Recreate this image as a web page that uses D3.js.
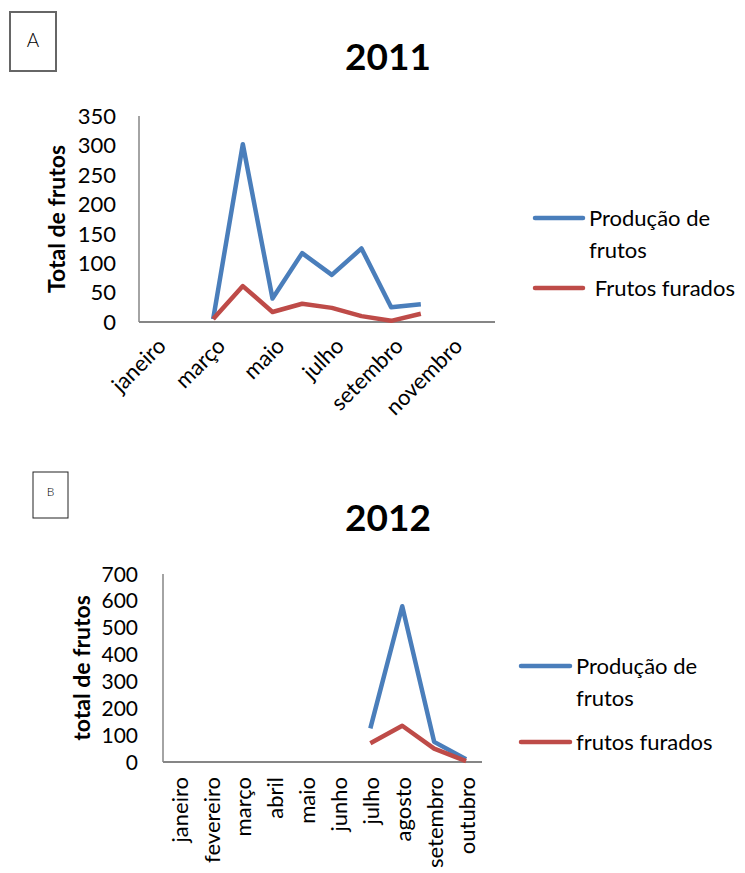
<!DOCTYPE html>
<html><head><meta charset="utf-8">
<script src="https://cdn.jsdelivr.net/npm/d3@7"></script>
<style>body{margin:0;background:#fff}svg{display:block}text{font-family:Lato,"Open Sans",sans-serif;fill:#000}</style>
</head><body>
<script>
const months2011 = ["janeiro","fevereiro","março","abril","maio","junho","julho","agosto","setembro","outubro","novembro","dezembro"];
const tickLabels2011 = ["janeiro","março","maio","julho","setembro","novembro"];
const producao2011 = [null,null,5,302,40,117,80,125,25,30,null,null];
const furados2011 = [null,null,5,61,17,31,24,10,2,14,null,null];
const yTicks2011 = [0,50,100,150,200,250,300,350];

const months2012 = ["janeiro","fevereiro","março","abril","maio","junho","julho","agosto","setembro","outubro"];
const producao2012 = [null,null,null,null,null,null,125,580,75,10];
const furados2012 = [null,null,null,null,null,null,70,135,50,3];
const yTicks2012 = [0,100,200,300,400,500,600,700];

const seriesNames2011 = ["Produção de|frutos"," Frutos furados"];
const seriesNames2012 = ["Produção de|frutos","frutos furados"];
const colors = ["#4A7EBB","#BE4B48"];

const svg = d3.select("body").append("svg").attr("width",745).attr("height",873);

function panel(o){
  const g = svg.append("g");
  const x = d3.scaleBand().domain(o.months).range([o.x0,o.x1]);
  const y = d3.scaleLinear().domain([0,o.ymax]).range([o.y0,o.y1]);
  g.append("line").attr("x1",o.x0).attr("x2",o.x0).attr("y1",o.y0).attr("y2",o.y1).attr("stroke","#868686").attr("stroke-width",1.5);
  g.append("line").attr("x1",o.x0).attr("x2",o.x1).attr("y1",o.y0).attr("y2",o.y0).attr("stroke","#868686").attr("stroke-width",2);
  g.selectAll(".yt").data(o.yTicks).enter().append("text")
    .attr("x",o.ytx).attr("y",d=>y(d)).attr("dy","0.36em").attr("text-anchor","end")
    .style("font-size",o.yfs+"px").text(d=>d);
  g.append("text").attr("transform",`translate(${o.ytitleX},${(o.y0+o.y1)/2}) rotate(-90)`)
    .attr("text-anchor","middle").attr("dy","0.35em").style("font-size",o.ytfs+"px").style("font-weight","bold").text(o.ytitle);
  g.selectAll(".xt").data(o.xlabels).enter().append("text")
    .attr("transform",d=>`translate(${x(d)+x.bandwidth()/2+o.xdx},${o.xly}) rotate(${o.rot})`)
    .attr("text-anchor","end").attr("dy","0.35em").style("font-size",o.xfs+"px").text(d=>d);
  o.series.forEach((s,i)=>{
    const line = d3.line().defined(d=>d!=null).x((d,j)=>x(o.months[j])+x.bandwidth()/2).y(d=>y(d));
    g.append("path").datum(s).attr("d",line).attr("fill","none").attr("stroke",colors[i])
      .attr("stroke-width",4.5).attr("stroke-linejoin","round");
  });
  g.append("text").attr("x",o.titleX).attr("y",o.titleY).attr("text-anchor","middle")
    .style("font-size","37px").style("font-weight","bold").text(o.title);
  o.names.forEach((n,i)=>{
    const ly = o.legY[i];
    g.append("line").attr("x1",o.legX0).attr("x2",o.legX1).attr("y1",ly).attr("y2",ly)
      .attr("stroke",colors[i]).attr("stroke-width",4.5).attr("stroke-linecap","round");
    const parts = n.split("|");
    const t = g.append("text").attr("x",o.legX1+6).attr("y",ly).style("font-size",o.lfs+"px").style("white-space","pre").attr("xml:space","preserve");
    parts.forEach((p,k)=>t.append("tspan").attr("x",o.legX1+6).attr("dy",k===0?"0.35em":"1.45em").text(p));
  });
  g.append("rect").attr("x",o.box[0]).attr("y",o.box[1]).attr("width",o.box[2]).attr("height",o.box[3])
    .attr("fill","none").attr("stroke",o.boxStroke).attr("stroke-width",o.boxSw);
  g.append("text").attr("x",o.box[0]+o.box[2]/2).attr("y",o.letterY).attr("text-anchor","middle")
    .style("font-size",o.letterFs+"px").style("font-weight","300").text(o.letter);
}

panel({months:months2011,xlabels:tickLabels2011,x0:139,x1:495,y0:322,y1:116,ymax:350,yTicks:yTicks2011,
  ytx:116,yfs:22,ytitleX:57,ytfs:23,ytitle:"Total de frutos",xdx:8,xly:342,rot:-45,xfs:22,
  series:[producao2011,furados2011],title:"2011",titleX:388,titleY:70,
  names:seriesNames2011,legY:[218,288],legX0:535,legX1:583,lfs:22,
  box:[10,12,46,59],boxStroke:"#666",boxSw:2,letter:"A",letterY:47,letterFs:19});

panel({months:months2012,xlabels:months2012,x0:163,x1:482,y0:762,y1:574,ymax:700,yTicks:yTicks2012,
  ytx:138,yfs:21,ytitleX:82,ytfs:23,ytitle:"total de frutos",xdx:1,xly:777,rot:-90,xfs:22,
  series:[producao2012,furados2012],title:"2012",titleX:388,titleY:531,
  names:seriesNames2012,legY:[666,742],legX0:521,legX1:570,lfs:22,
  box:[33,472,35,46],boxStroke:"#222",boxSw:1,letter:"B",letterY:496,letterFs:12});
</script>
</body></html>
